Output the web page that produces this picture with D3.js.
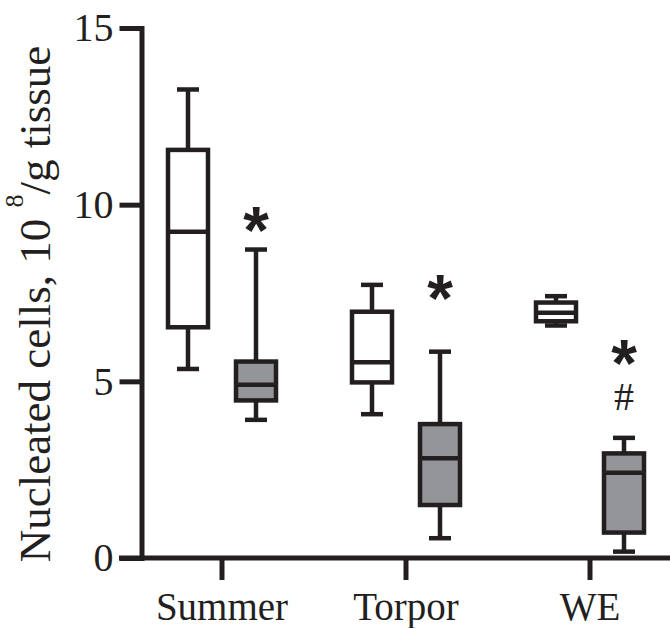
<!DOCTYPE html>
<html>
<head>
<meta charset="utf-8">
<script src="https://cdn.jsdelivr.net/npm/d3@7"></script>
<style>
  body { margin: 0; background: #fff; }
  svg { display: block; }
</style>
</head>
<body>
<div id="chart"></div>
<script>
// groups on the x axis
const categories = ["Summer", "Torpor", "WE"];
// two boxes per group: open (white) and filled (grey)
const seriesNames = ["open", "filled"];

// box stats per group: [min, q1, median, q3, max]
const openStats = [
  [5.35, 6.53, 9.23, 11.55, 13.26],
  [4.07, 4.97, 5.54, 6.97, 7.73],
  [6.58, 6.70, 6.94, 7.23, 7.41]
];
const filledStats = [
  [3.91, 4.46, 4.90, 5.56, 8.73],
  [0.56, 1.50, 2.82, 3.79, 5.84],
  [0.18, 0.72, 2.41, 2.96, 3.40]
];

// significance marks above the filled boxes
const markGroups = ["Summer", "Torpor", "WE", "WE"];
const markText = ["*", "*", "*", "#"];
const markValues = [9.57, 7.64, 5.80, 4.56];

const yTicks = [0, 5, 10, 15];

const width = 670, height = 628;
const ink = "#231f20";
const greyFill = "#939598";

const svg = d3.select("#chart")
  .append("svg")
    .attr("width", width)
    .attr("height", height);

const y = d3.scaleLinear()
  .domain([0, 15])
  .range([558, 28]);

const x = d3.scaleBand()
  .domain(categories)
  .range([130, 682]);

const xInner = d3.scaleBand()
  .domain(seriesNames)
  .range([-68, 68]);

// y axis
const yAxis = svg.append("g")
  .attr("transform", "translate(141.5,0)")
  .call(d3.axisLeft(y).tickValues(yTicks).tickSize(22).tickSizeOuter(0).tickPadding(6));
yAxis.select(".domain")
  .attr("stroke", ink)
  .attr("stroke-width", 5)
  .attr("stroke-linecap", "square");
yAxis.selectAll(".tick line").attr("stroke", ink).attr("stroke-width", 5);
yAxis.selectAll(".tick text")
  .attr("fill", ink)
  .style("font-family", "'Liberation Serif', 'Times New Roman', serif")
  .style("font-size", "40px");

// x axis
const xAxis = svg.append("g")
  .attr("transform", "translate(0,558)")
  .call(d3.axisBottom(x).tickSize(22).tickSizeOuter(0).tickPadding(12));
xAxis.select(".domain").remove();
xAxis.append("line")
  .attr("x1", 119).attr("x2", width)
  .attr("stroke", ink)
  .attr("stroke-width", 5);
xAxis.selectAll(".tick line").attr("stroke", ink).attr("stroke-width", 5);
xAxis.selectAll(".tick text")
  .attr("fill", ink)
  .style("font-family", "'Liberation Serif', 'Times New Roman', serif")
  .style("font-size", "39px");

// y label
const yLabel = svg.append("text")
  .attr("transform", "translate(50," + 304 + ") rotate(-90)")
  .attr("text-anchor", "middle")
  .attr("fill", ink)
  .style("font-family", "'Liberation Serif', 'Times New Roman', serif")
  .style("font-size", "45px");
yLabel.append("tspan").text("Nucleated cells, 10 ");
yLabel.append("tspan").attr("dy", -27).style("font-size", "26px").text("8");
yLabel.append("tspan").attr("dy", 27).text("/g tissue");

// boxes
const boxData = [];
categories.forEach((c, i) => {
  boxData.push({ group: c, series: "open", s: openStats[i] });
  boxData.push({ group: c, series: "filled", s: filledStats[i] });
});

const boxW = 40, capW = 22, sw = 4.5;

const boxes = svg.append("g").selectAll("g")
  .data(boxData)
  .enter()
  .append("g")
    .attr("transform", d => "translate(" + (x(d.group) + x.bandwidth() / 2 + xInner(d.series) + xInner.bandwidth() / 2) + ",0)");

// whiskers
boxes.append("line")
  .attr("x1", 0).attr("x2", 0)
  .attr("y1", d => y(d.s[0]))
  .attr("y2", d => y(d.s[4]))
  .attr("stroke", ink).attr("stroke-width", sw);
boxes.append("line")
  .attr("x1", -capW / 2).attr("x2", capW / 2)
  .attr("y1", d => y(d.s[0])).attr("y2", d => y(d.s[0]))
  .attr("stroke", ink).attr("stroke-width", sw);
boxes.append("line")
  .attr("x1", -capW / 2).attr("x2", capW / 2)
  .attr("y1", d => y(d.s[4])).attr("y2", d => y(d.s[4]))
  .attr("stroke", ink).attr("stroke-width", sw);

boxes.append("rect")
  .attr("x", -boxW / 2)
  .attr("width", boxW)
  .attr("y", d => y(d.s[3]))
  .attr("height", d => y(d.s[1]) - y(d.s[3]))
  .attr("fill", d => d.series == "open" ? "#fff" : greyFill)
  .attr("stroke", ink)
  .attr("stroke-width", sw);

boxes.append("line")
  .attr("x1", -boxW / 2).attr("x2", boxW / 2)
  .attr("y1", d => y(d.s[2])).attr("y2", d => y(d.s[2]))
  .attr("stroke", ink).attr("stroke-width", sw);

// significance marks
const filledX = g => x(g) + x.bandwidth() / 2 + xInner("filled") + xInner.bandwidth() / 2;
svg.append("g").selectAll("text")
  .data(markText)
  .enter()
  .append("text")
    .attr("x", (d, i) => filledX(markGroups[i]))
    .attr("y", (d, i) => y(markValues[i]))
    .attr("text-anchor", "middle")
    .attr("fill", ink)
    .attr("dy", d => d == "*" ? "0.5em" : "0.34em")
    .style("font-family", d => d == "*" ? "'Liberation Sans', Arial, sans-serif" : "'Liberation Serif', 'Times New Roman', serif")
    .style("font-weight", d => d == "*" ? "bold" : "normal")
    .style("font-size", d => d == "*" ? "66px" : "40px")
    .text(d => d);
</script>
</body>
</html>
